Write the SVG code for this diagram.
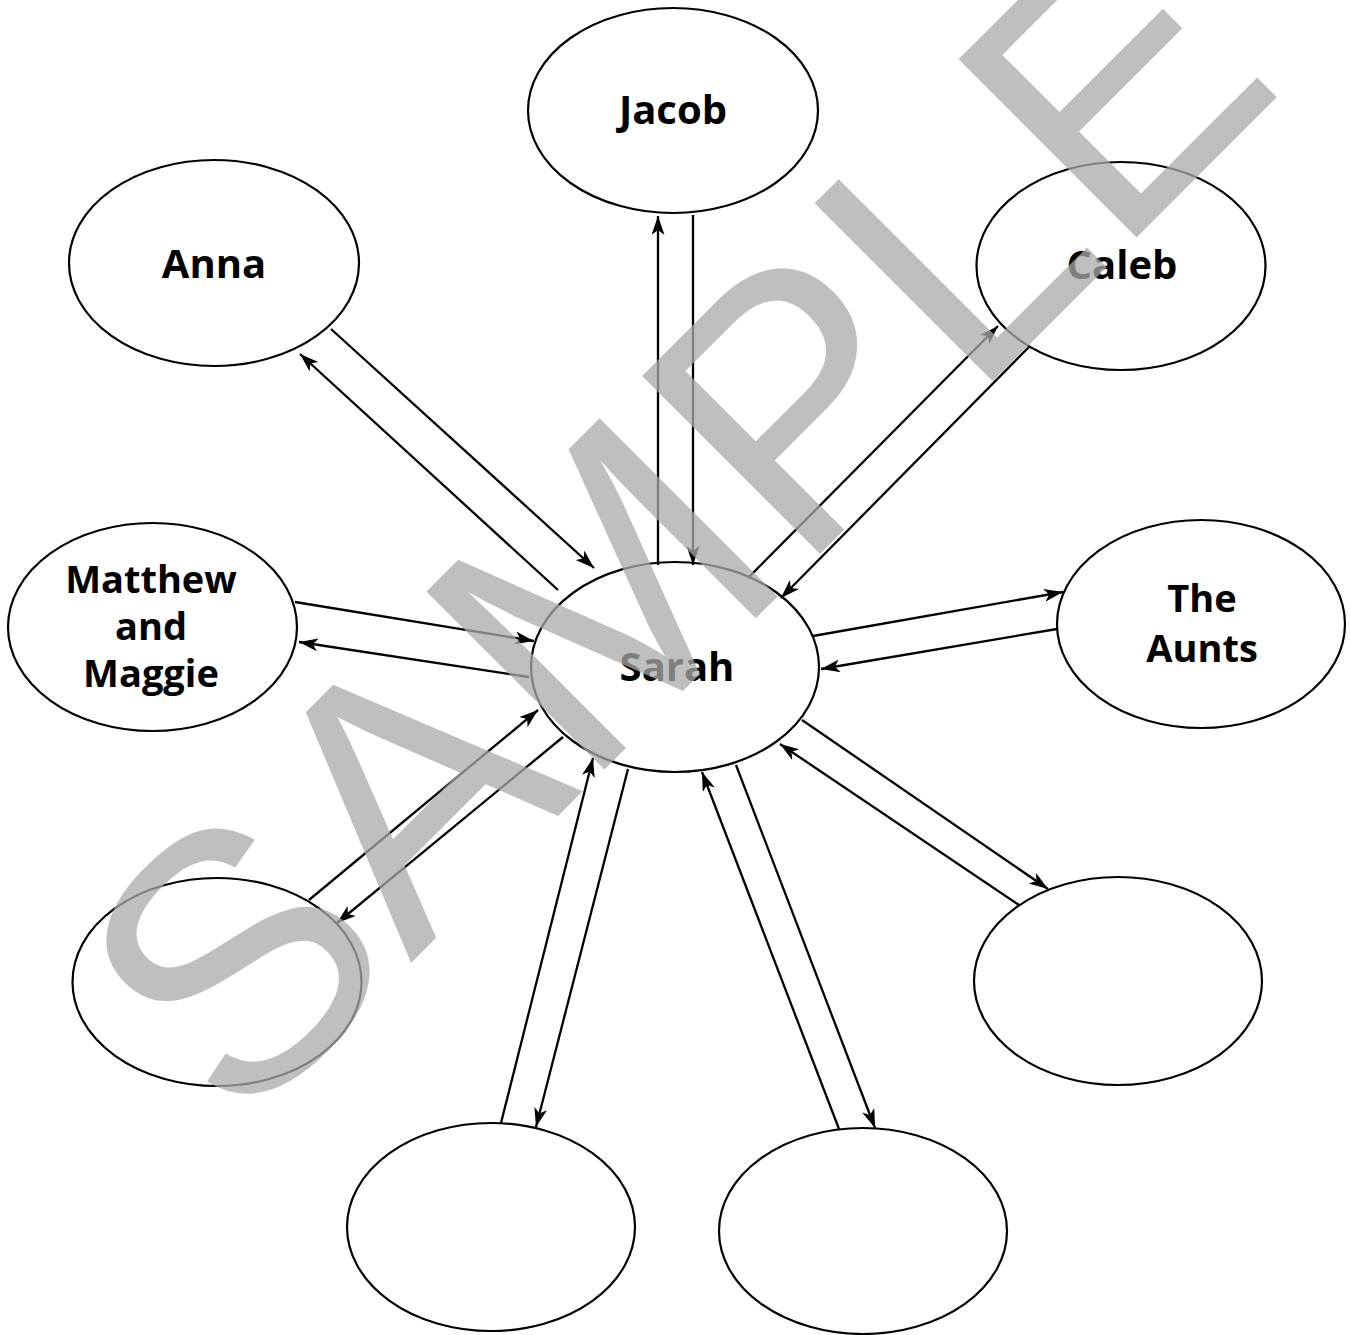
<svg xmlns="http://www.w3.org/2000/svg" width="1351" height="1335" viewBox="0 0 1351 1335">
<style>
.node ellipse{fill:#fff;stroke:#000;stroke-width:2.2}
.lbl{font-family:"Open Sans","Noto Sans",sans-serif;font-weight:700;font-size:40px;text-anchor:middle;fill:#000}
.lbl2{font-size:38px}
.conn line{stroke:#000;stroke-width:2.3;marker-end:url(#ah)}
.wm{font-family:"Liberation Sans",Arial,sans-serif;font-size:366px;fill:#aaaaaa;fill-opacity:0.75}
</style>
<defs>
<marker id="ah" markerUnits="userSpaceOnUse" markerWidth="22" markerHeight="14" refX="19" refY="6.5" orient="auto">
<path d="M0,0 L19,6.5 L0,13 L5,6.5 Z" fill="#000"/>
</marker>
</defs>
<rect width="1351" height="1335" fill="#fff"/>
<g id="jacob" class="node"><ellipse cx="673" cy="110.5" rx="145" ry="102.5"/><text class="lbl" x="673" y="124">Jacob</text></g>
<g id="anna" class="node"><ellipse cx="214" cy="263" rx="145" ry="103"/><text class="lbl" x="214" y="278">Anna</text></g>
<g id="caleb" class="node"><ellipse cx="1121" cy="266" rx="144.5" ry="104"/><text class="lbl" x="1122" y="279">Caleb</text></g>
<g id="matthew" class="node"><ellipse cx="152.5" cy="627" rx="144.5" ry="104"/><text class="lbl lbl2" x="151" y="593">Matthew</text><text class="lbl lbl2" x="151" y="640">and</text><text class="lbl lbl2" x="151" y="687">Maggie</text></g>
<g id="sarah" class="node"><ellipse cx="675" cy="667" rx="144" ry="105"/><text class="lbl" x="677" y="681">Sarah</text></g>
<g id="aunts" class="node"><ellipse cx="1201" cy="624" rx="144" ry="104"/><text class="lbl lbl2" x="1202" y="612">The</text><text class="lbl lbl2" x="1202" y="662">Aunts</text></g>
<g id="bottom-left" class="node"><ellipse cx="217" cy="982" rx="144.5" ry="104"/></g>
<g id="bottom-right" class="node"><ellipse cx="1118" cy="981" rx="144" ry="104"/></g>
<g id="bottom-center-left" class="node"><ellipse cx="491" cy="1227" rx="144" ry="104"/></g>
<g id="bottom-center-right" class="node"><ellipse cx="863" cy="1231" rx="144" ry="103"/></g>
<g id="connectors" class="conn">
<line x1="558" y1="590" x2="300" y2="354"/>
<line x1="331" y1="329" x2="594" y2="568"/>
<line x1="658" y1="565" x2="658" y2="216"/>
<line x1="693" y1="215" x2="693" y2="565"/>
<line x1="748" y1="578" x2="998" y2="326"/>
<line x1="1029" y1="347" x2="781" y2="598"/>
<line x1="295" y1="602" x2="534" y2="641"/>
<line x1="529" y1="677" x2="299" y2="642"/>
<line x1="813" y1="636" x2="1063" y2="592"/>
<line x1="1057" y1="629" x2="821" y2="669"/>
<line x1="309" y1="900" x2="538" y2="710"/>
<line x1="563" y1="737" x2="337" y2="923"/>
<line x1="501" y1="1123" x2="593" y2="758"/>
<line x1="628" y1="769" x2="536" y2="1127"/>
<line x1="839" y1="1129" x2="702" y2="772"/>
<line x1="736" y1="765" x2="875" y2="1128"/>
<line x1="802" y1="720" x2="1048" y2="889"/>
<line x1="1019" y1="905" x2="780" y2="744"/>
</g>
<text class="wm" x="238" y="1136" transform="rotate(-45 238 1136)">SAMPLE</text>
</svg>
